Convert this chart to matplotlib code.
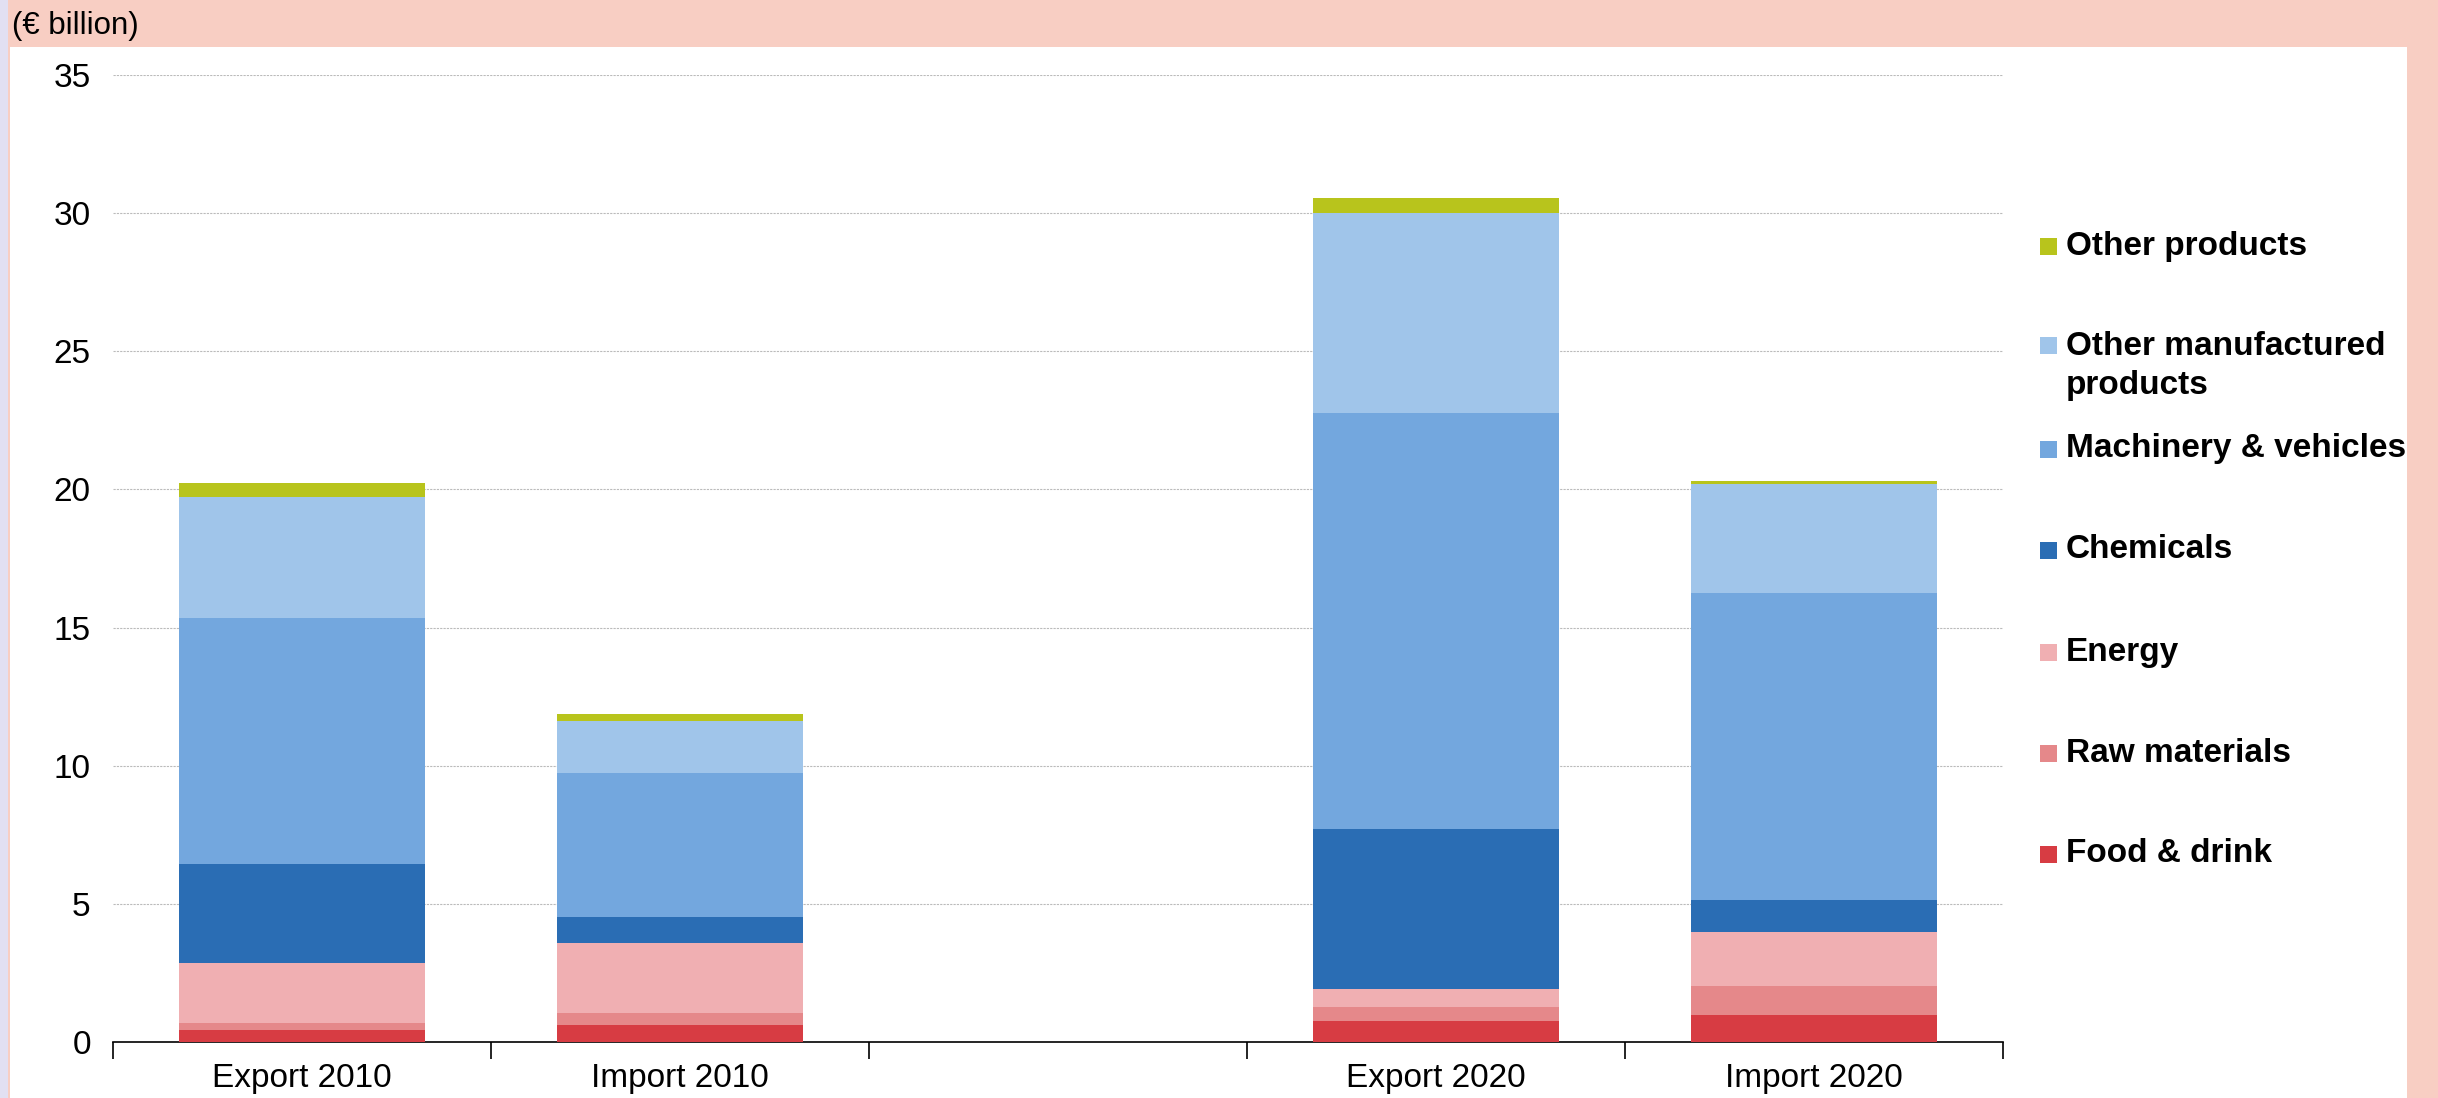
import matplotlib
matplotlib.use('Agg')
import matplotlib.pyplot as plt
from matplotlib.patches import Rectangle
import numpy as np

plt.rcParams['font.family'] = ['Liberation Sans', 'DejaVu Sans']

# data (EUR billion)
bar_labels = ['Export 2010', 'Import 2010', 'Export 2020', 'Import 2020']
slot_labels = ['Export 2010', 'Import 2010', '', 'Export 2020', 'Import 2020']
bar_slots = [0, 1, 3, 4]

categories = ['Food & drink', 'Raw materials', 'Energy', 'Chemicals',
              'Machinery & vehicles', 'Other manufactured\nproducts', 'Other products']
food = [0.44, 0.61, 0.77, 0.96]
raw_materials = [0.25, 0.45, 0.50, 1.08]
energy = [2.17, 2.51, 0.66, 1.95]
chemicals = [3.59, 0.95, 5.78, 1.16]
machinery = [8.89, 5.23, 15.06, 11.10]
other_manufactured = [4.39, 1.88, 7.23, 3.96]
other_products = [0.52, 0.23, 0.55, 0.11]

series = [food, raw_materials, energy, chemicals, machinery, other_manufactured, other_products]
colors = ['#D73C43', '#E5888A', '#F0AFB2', '#2A6DB4', '#73A7DE', '#A0C5EA', '#B8C41C']

W, H = 2438, 1098
fig = plt.figure(figsize=(W / 100, H / 100), dpi=100)
fig.patch.set_facecolor('#F8CEC3')

# white panel, lavender strip on the left
fig.add_artist(Rectangle((10 / W, 0), (2407 - 10) / W, (H - 47) / H,
                         transform=fig.transFigure, facecolor='white', edgecolor='none', zorder=0))
fig.add_artist(Rectangle((0, 0), 8 / W, 1, transform=fig.transFigure,
                         facecolor='#E2E0F2', edgecolor='none', zorder=0))
fig.text(12 / W, 1 - 26 / H, '(€ billion)', fontsize=22.5, va='center', ha='left')

ax = fig.add_axes([113 / W, 1 - 1042 / H, (2003 - 113) / W, (1042 - 75) / H])
ax.set_facecolor('none')

bottom = np.zeros(len(bar_labels))
for vals, col in zip(series, colors):
    ax.bar(bar_slots, vals, width=0.65, bottom=bottom, color=col, linewidth=0, zorder=3)
    bottom += np.array(vals)

ax.set_xlim(-0.5, 4.5)
ax.set_ylim(0, 35)
ax.set_yticks(np.arange(0, 36, 5))
ax.yaxis.grid(True, color='#BBBBBB', linestyle=(0, (2, 1)), linewidth=0.8, zorder=0)
ax.tick_params(axis='y', length=0, labelsize=24, pad=16)

ax.set_xticks(np.arange(-0.5, 5, 1))
ax.set_xticklabels([])
ax.set_xticks(np.arange(5), minor=True)
ax.set_xticklabels(slot_labels, minor=True)
ax.tick_params(axis='x', which='major', length=12, width=1.2, direction='out')
ax.tick_params(axis='x', which='minor', length=0, labelsize=24, pad=15)

for s in ['left', 'right', 'top']:
    ax.spines[s].set_visible(False)
ax.spines['bottom'].set_linewidth(1.2)

# legend drawn by hand, top entry first (y = centre of first text line, px)
legend_y = [246, 345, 449, 550, 652, 753, 854]
for name, col, y in zip(categories[::-1], colors[::-1], legend_y):
    fig.add_artist(Rectangle((2040 / W, 1 - (y + 9) / H), 17 / W, 17 / H,
                             transform=fig.transFigure, facecolor=col, edgecolor='none'))
    n_lines = name.count('\n') + 1
    yc = y + (n_lines - 1) * 21
    fig.text(2066 / W, 1 - yc / H, name, fontsize=24, fontweight='bold',
             va='center', ha='left', linespacing=1.3)

fig.savefig('out.png', dpi=100, facecolor=fig.get_facecolor())
